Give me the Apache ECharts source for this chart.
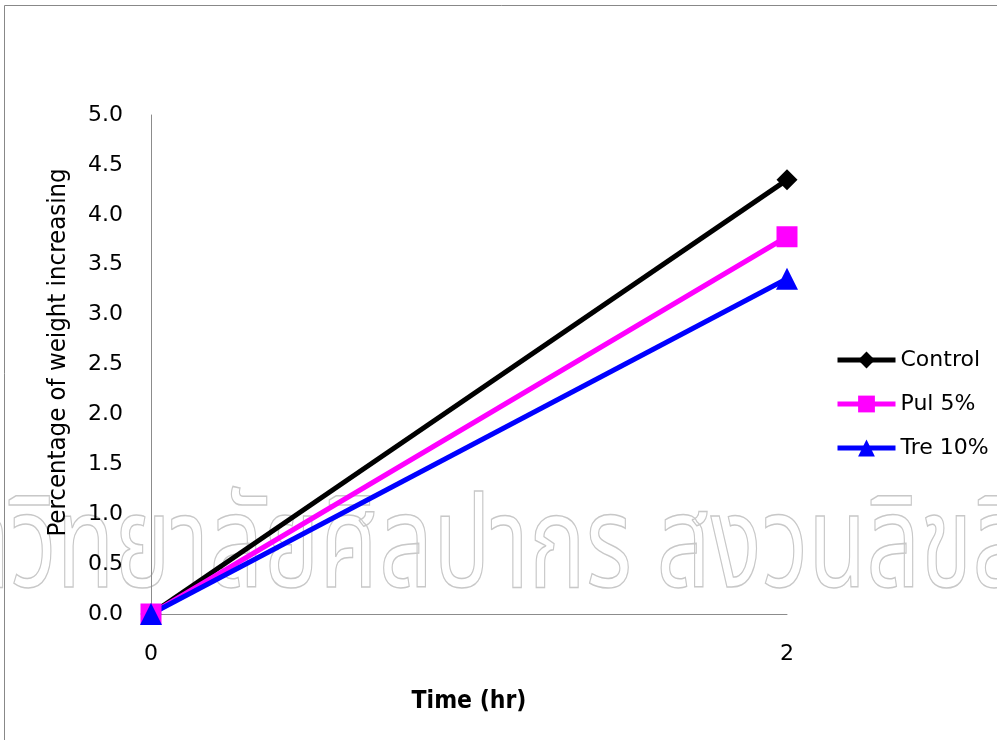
<!DOCTYPE html>
<html><head><meta charset="utf-8">
<script src="https://cdn.jsdelivr.net/npm/echarts@6/dist/echarts.min.js"></script>
<style>html,body{margin:0;padding:0;background:#fff}#c{width:997px;height:740px}</style>
</head><body><div id="c"></div>
<script>
const categories = ['0', '2'];
const controlValues = [0, 4.35];
const pulValues = [0, 3.78];
const treValues = [0, 3.36];
const seriesNames = ['Control', 'Pul 5%', 'Tre 10%'];
const yTicks = { min: 0, max: 5, interval: 0.5 };
const watermark = 'มหาวิทยาลัยศิลปากร สงวนลิขสิทธิ์';

const FONT = '"DejaVu Sans", sans-serif';
const FONT_C = '"DejaVu Sans Condensed", "DejaVu Sans", sans-serif';
const chart = echarts.init(document.getElementById('c'));
chart.setOption({
  animation: false,
  backgroundColor: '#fff',
  textStyle: { fontFamily: FONT },
  graphic: [
    { type: 'rect', shape: { x: 4.5, y: 5.5, width: 1100, height: 900 }, style: { fill: 'none', stroke: '#888', lineWidth: 1 }, z: -10 },
    { type: 'text', x: -142, y: 497, z: -5, scaleX: 0.74,
      style: { text: watermark, font: '128px "Noto Sans Thai", "Noto Sans", sans-serif', fill: 'rgba(255,255,255,0)', stroke: '#c8c8c8', lineWidth: 1.5 } }
  ],
  grid: { left: 151, right: 210, top: 115, bottom: 126 },
  legend: {
    orient: 'vertical', left: 830, top: 344, itemWidth: 58, itemHeight: 21, itemGap: 22,
    textStyle: { fontSize: 22, color: '#000', fontFamily: FONT },
    lineStyle: { width: 5 },
    data: seriesNames
  },
  xAxis: {
    type: 'category', data: categories, boundaryGap: false,
    axisLine: { lineStyle: { color: '#8c8c8c', width: 1 } },
    axisTick: { show: false },
    axisLabel: { color: '#000', fontSize: 22, margin: 29, fontFamily: FONT },
    name: 'Time (hr)', nameLocation: 'middle', nameGap: 75,
    nameTextStyle: { color: '#000', fontSize: 24.5, fontWeight: 'bold', fontFamily: FONT_C }
  },
  yAxis: {
    type: 'value', min: yTicks.min, max: yTicks.max, interval: yTicks.interval,
    axisLine: { show: true, lineStyle: { color: '#8c8c8c', width: 1 } },
    axisTick: { show: false },
    splitLine: { show: false },
    axisLabel: { color: '#000', fontSize: 22, margin: 28, fontFamily: FONT, formatter: v => v.toFixed(1) },
    name: 'Percentage of weight increasing', nameLocation: 'middle', nameGap: 80, nameRotate: 90,
    nameTextStyle: { color: '#000', fontSize: 25.5, fontFamily: FONT_C, padding: [0, 0, 0, 24] }
  },
  series: [
    { name: seriesNames[0], type: 'line', data: controlValues, symbol: 'diamond', symbolSize: 21,
      lineStyle: { color: '#000', width: 5 }, itemStyle: { color: '#000' } },
    { name: seriesNames[1], type: 'line', data: pulValues, symbol: 'rect', symbolSize: 21,
      lineStyle: { color: '#ff00ff', width: 5 }, itemStyle: { color: '#ff00ff' } },
    { name: seriesNames[2], type: 'line', data: treValues, symbol: 'triangle', symbolSize: 22,
      lineStyle: { color: '#0000ff', width: 5 }, itemStyle: { color: '#0000ff' } }
  ]
});
</script></body></html>
